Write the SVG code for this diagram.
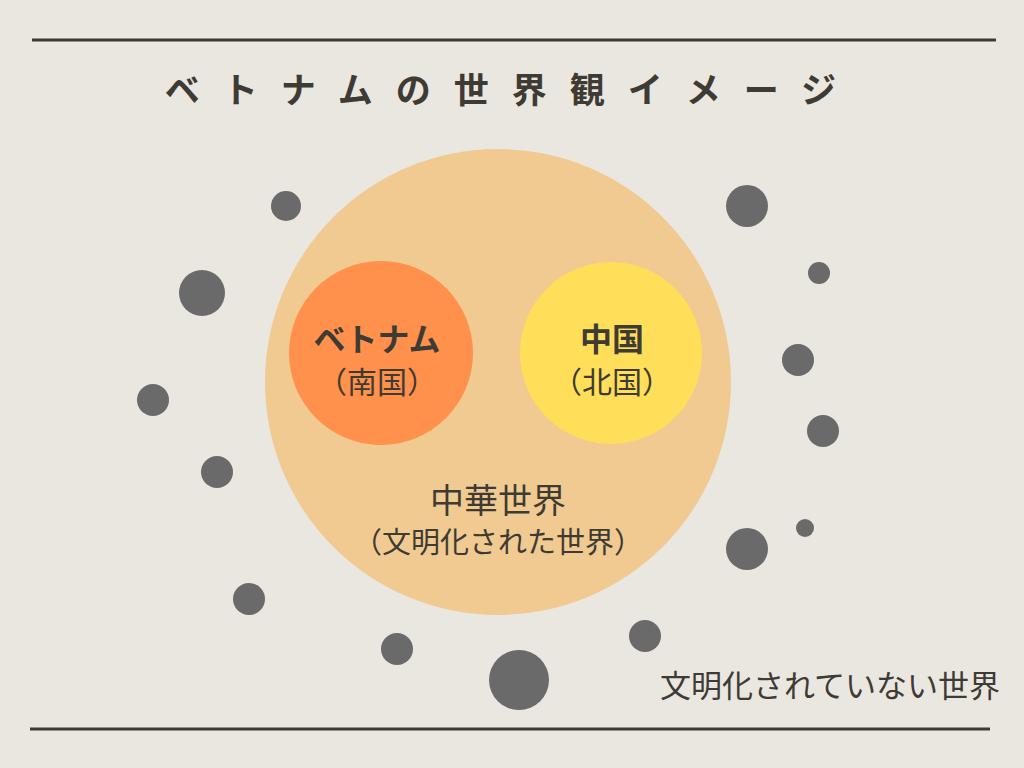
<svg xmlns="http://www.w3.org/2000/svg" width="1024" height="768" viewBox="0 0 1024 768">
<style>
.t{font-family:"Noto Sans CJK JP","Noto Sans",sans-serif;fill:#3E3A34;text-anchor:middle}
.b{font-weight:bold}
.dot{fill:#6A6A6A}
.rule{stroke:#3E3A34;stroke-width:3}
</style>
<rect width="1024" height="768" fill="#EAE7E0"/>
<line class="rule" x1="32" y1="40" x2="996" y2="40"/>
<line class="rule" x1="30" y1="729" x2="990" y2="729"/>
<text class="t b" x="512" y="103" font-size="35" letter-spacing="23">ベトナムの世界観イメージ</text>
<g id="world">
<circle cx="498" cy="382" r="233" fill="#F0CA91"/>
<text class="t" x="498" y="513" font-size="34">中華世界</text>
<text class="t" x="498" y="553" font-size="29">（文明化された世界）</text>
</g>
<g id="vietnam">
<circle cx="381" cy="353" r="92" fill="#FF914D"/>
<text class="t b" x="377" y="351" font-size="32">ベトナム</text>
<text class="t" x="377" y="393" font-size="30">（南国）</text>
</g>
<g id="china">
<circle cx="611" cy="353" r="91" fill="#FFDE59"/>
<text class="t b" x="612" y="351" font-size="32">中国</text>
<text class="t" x="612" y="393" font-size="30">（北国）</text>
</g>
<g id="outside">
<circle class="dot" cx="286" cy="206" r="15"/>
<circle class="dot" cx="202" cy="293" r="23"/>
<circle class="dot" cx="153" cy="400" r="16"/>
<circle class="dot" cx="217" cy="472" r="16"/>
<circle class="dot" cx="249" cy="599" r="16"/>
<circle class="dot" cx="397" cy="649" r="16"/>
<circle class="dot" cx="519" cy="680" r="30"/>
<circle class="dot" cx="645" cy="636" r="16"/>
<circle class="dot" cx="747" cy="206" r="21"/>
<circle class="dot" cx="819" cy="273" r="11"/>
<circle class="dot" cx="798" cy="360" r="16"/>
<circle class="dot" cx="823" cy="431" r="16"/>
<circle class="dot" cx="805" cy="528" r="9"/>
<circle class="dot" cx="747" cy="549" r="21"/>
<text class="t" x="830" y="697" font-size="31">文明化されていない世界</text>
</g>
</svg>
